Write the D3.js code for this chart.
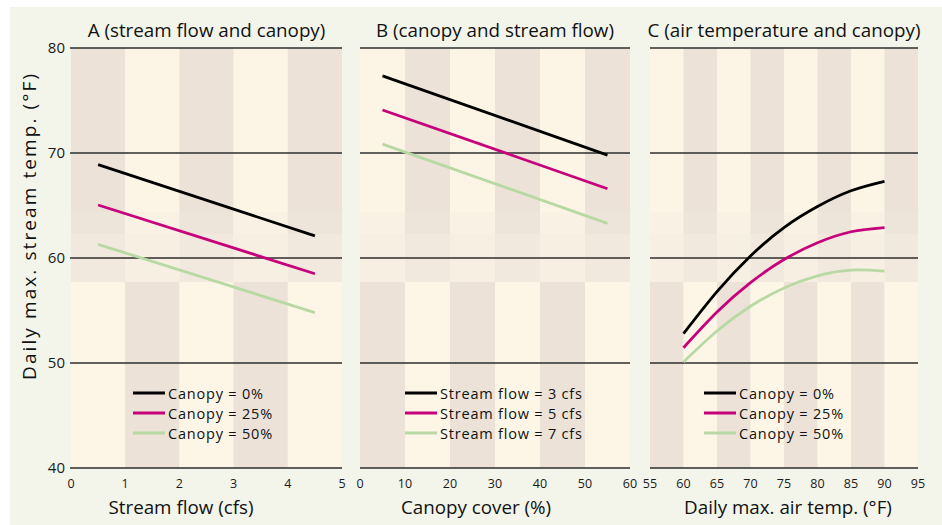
<!DOCTYPE html>
<html>
<head>
<meta charset="utf-8">
<script src="https://cdn.jsdelivr.net/npm/d3@7"></script>
<style>
  html, body { margin:0; padding:0; background:#ffffff; }
  svg { display:block; font-family:"Open Sans", "Noto Sans", sans-serif; }
</style>
</head>
<body>
<script>
// ---------- DATA ----------
const yTicks = [40, 50, 60, 70, 80];

// Panel A: stream flow (cfs) vs stream temp, by canopy
const flowA = [0.5, 4.5];
const a_canopy0 = [68.9, 62.1];
const a_canopy25 = [65.05, 58.5];
const a_canopy50 = [61.3, 54.8];
const xTicksA = [0, 1, 2, 3, 4, 5];

// Panel B: canopy cover (%) vs stream temp, by stream flow
const canopyB = [5, 55];
const b_flow3 = [77.35, 69.8];
const b_flow5 = [74.1, 66.6];
const b_flow7 = [70.85, 63.3];
const xTicksB = [0, 10, 20, 30, 40, 50, 60];

// Panel C: air temp vs stream temp, by canopy
const airC = [60, 65, 70, 75, 80, 85, 90];
const c_canopy0 = [52.8, 56.8, 60.2, 62.9, 64.9, 66.4, 67.3];
const c_canopy25 = [51.45, 54.85, 57.65, 59.85, 61.45, 62.5, 62.9];
const c_canopy50 = [50.1, 53.05, 55.4, 57.15, 58.3, 58.85, 58.75];
const xTicksC = [55, 60, 65, 70, 75, 80, 85, 90, 95];

const legendA = ["Canopy = 0%", "Canopy = 25%", "Canopy = 50%"];
const legendB = ["Stream flow = 3 cfs", "Stream flow = 5 cfs", "Stream flow = 7 cfs"];
const legendC = ["Canopy = 0%", "Canopy = 25%", "Canopy = 50%"];

const titles = ["A (stream flow and canopy)", "B (canopy and stream flow)", "C (air temperature and canopy)"];
const xLabels = ["Stream flow (cfs)", "Canopy cover (%)", "Daily max. air temp. (°F)"];
const yLabel = "Daily max. stream temp. (°F)";

// ---------- LAYOUT / STYLE ----------
const W = 942, H = 525;
const colors = ["#000000", "#c7007b", "#b9d9a4"];
const plotTop = 48, plotBottom = 468;

const panels = [
  { x0: 71,  x1: 342, domain: [0, 5],   ticks: xTicksA, step: 1,  firstDark: true,
    xs: [flowA, flowA, flowA], ys: [a_canopy0, a_canopy25, a_canopy50],
    legend: legendA, legX: 133, xLabelX: 181, curve: d3.curveLinear },
  { x0: 360, x1: 630, domain: [0, 60],  ticks: xTicksB, step: 10, firstDark: false,
    xs: [canopyB, canopyB, canopyB], ys: [b_flow3, b_flow5, b_flow7],
    legend: legendB, legX: 405, xLabelX: 476, curve: d3.curveLinear },
  { x0: 650, x1: 918, domain: [55, 95], ticks: xTicksC, step: 5,  firstDark: false,
    xs: [airC, airC, airC], ys: [c_canopy0, c_canopy25, c_canopy50],
    legend: legendC, legX: 704, xLabelX: 788, curve: d3.curveNatural }
];

const svg = d3.select("body").append("svg").attr("width", W).attr("height", H);

// page background
svg.append("rect").attr("x", 10).attr("y", 7).attr("width", W - 10).attr("height", H - 7)
  .attr("fill", "#f3f5eb");

const y = d3.scaleLinear().domain([40, 80]).range([plotBottom, plotTop]);

// background rows: [yStart, yEnd, darkColor, lightColor, invert]
const rows = [
  [plotTop, 212, "#ece2d8", "#fcf5e5", false],
  [212, 234, "#eee5da", "#f9f1e3", false],
  [234, 282, "#f2e9de", "#f7efe1", false],
  [282, plotBottom, "#ece2d8", "#fdf6e7", true]
];

panels.forEach((p, pi) => {
  const x = d3.scaleLinear().domain(p.domain).range([p.x0, p.x1]);
  const g = svg.append("g");

  // stripes
  const edges = d3.range(p.domain[0], p.domain[1], p.step);
  rows.forEach(r => {
    edges.forEach((e, i) => {
      let dark = (i % 2 === 0) === p.firstDark;
      if (r[4]) dark = !dark;
      g.append("rect")
        .attr("x", x(e)).attr("y", r[0])
        .attr("width", x(e + p.step) - x(e)).attr("height", r[1] - r[0])
        .attr("fill", dark ? r[2] : r[3]);
    });
  });

  // horizontal gridlines
  g.selectAll("line.grid").data(yTicks).join("line")
    .attr("x1", p.x0 - (pi === 0 ? 1 : 0)).attr("x2", p.x1)
    .attr("y1", d => y(d)).attr("y2", d => y(d))
    .attr("stroke", "#2e2e2e").attr("stroke-width", 1.5);

  // x tick labels
  g.selectAll("text.xt").data(p.ticks).join("text")
    .attr("x", d => x(d)).attr("y", 488)
    .attr("text-anchor", "middle").attr("font-size", 12.5).attr("fill", "#1a1a1a")
    .text(d => d);

  // x label
  g.append("text").attr("x", p.xLabelX).attr("y", 514)
    .attr("text-anchor", "middle").attr("font-size", 18.8).attr("fill", "#111")
    .text(xLabels[pi]);

  // title
  g.append("text").attr("x", (p.x0 + p.x1) / 2).attr("y", 37)
    .attr("text-anchor", "middle").attr("font-size", 18.8).attr("fill", "#111")
    .text(titles[pi]);

  // series lines
  const line = d3.line().curve(p.curve);
  p.ys.forEach((ys, si) => {
    const pts = ys.map((v, k) => [x(p.xs[si][k]), y(v)]);
    g.append("path").attr("d", line(pts))
      .attr("fill", "none").attr("stroke", colors[si]).attr("stroke-width", 2.8);
  });

  // legend
  p.legend.forEach((t, si) => {
    const cy = 393 + si * 20;
    g.append("line").attr("x1", p.legX).attr("x2", p.legX + 32)
      .attr("y1", cy).attr("y2", cy)
      .attr("stroke", colors[si]).attr("stroke-width", 3);
    g.append("text").attr("x", p.legX + 35).attr("y", cy + 5.5)
      .attr("font-size", 14.5).attr("letter-spacing", 0.8)
      .attr("fill", "#111").text(t);
  });
});

// y tick labels (left panel only)
svg.selectAll("text.yt").data(yTicks).join("text")
  .attr("x", 65).attr("y", d => y(d) + 5)
  .attr("text-anchor", "end").attr("font-size", 15).attr("fill", "#1a1a1a")
  .text(d => d);

// y axis label
svg.append("text")
  .attr("transform", `translate(36, 227) rotate(-90)`)
  .attr("text-anchor", "middle").attr("font-size", 19)
  .attr("textLength", 306).attr("lengthAdjust", "spacing")
  .attr("fill", "#111")
  .text(yLabel);
</script>
</body>
</html>
